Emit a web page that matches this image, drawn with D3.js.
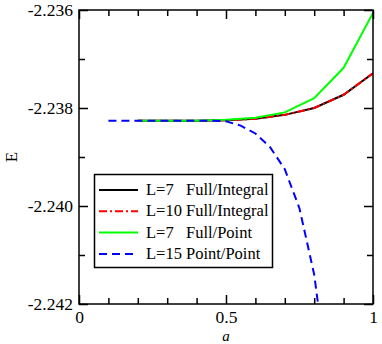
<!DOCTYPE html>
<html>
<head>
<meta charset="utf-8">
<script src="https://cdn.jsdelivr.net/npm/d3@7"></script>
<style>
  body { margin: 0; background: #fff; }
  text { font-family: 'Liberation Serif', 'Times New Roman', serif; }
</style>
</head>
<body>
<div></div>
<script>
const w = 382;
const h = 344;

// data
const aFull = [0.2, 0.3, 0.4, 0.5, 0.6, 0.7, 0.8, 0.9, 1.0];
const eL7Integral = [-2.23826, -2.23826, -2.23826, -2.23825, -2.23822, -2.23814, -2.238, -2.23773, -2.23729];
const eL10Integral = [-2.23826, -2.23826, -2.23826, -2.23825, -2.23822, -2.23814, -2.238, -2.23773, -2.23729];
const eL7Point = [-2.23826, -2.23826, -2.23826, -2.23824, -2.2382, -2.23809, -2.2378, -2.23718, -2.23606];
const aPoint = [0.1, 0.15, 0.2, 0.25, 0.3, 0.35, 0.4, 0.45, 0.5, 0.55, 0.6, 0.65, 0.7, 0.75, 0.8, 0.85];
const eL15Point = [-2.23826, -2.23826, -2.23826, -2.23826, -2.23826, -2.23826, -2.23826, -2.23826, -2.23827,
  -2.23836, -2.23852, -2.2388, -2.23925, -2.24005, -2.2414, -2.2437];

const yTicks = [-2.242, -2.24, -2.238, -2.236];
const yMinor = [-2.241, -2.239, -2.237];
const xTicks = [0, 0.5, 1];
const xMinor = [0.1, 0.2, 0.3, 0.4, 0.6, 0.7, 0.8, 0.9];

const series = [
  { label: 'L=7', method: 'Full/Integral', a: aFull, e: eL7Integral, color: '#000000', dash: null },
  { label: 'L=10', method: 'Full/Integral', a: aFull, e: eL10Integral, color: '#ff0000', dash: '8,3,2,3' },
  { label: 'L=7', method: 'Full/Point', a: aFull, e: eL7Point, color: '#00ff00', dash: null },
  { label: 'L=15', method: 'Point/Point', a: aPoint, e: eL15Point, color: '#0000ff', dash: '8,5' }
];

const pLeft = 79, pRight = 373, pTop = 10, pBottom = 304;

const x = d3.scaleLinear().domain([0, 1]).range([pLeft, pRight]);
const y = d3.scaleLinear().domain([-2.242, -2.236]).range([pBottom, pTop]);

const svg = d3
  .select('body')
  .select('div')
  .append('svg')
  .attr('width', w)
  .attr('height', h);

svg
  .append('clipPath')
  .attr('id', 'clip')
  .append('rect')
  .attr('x', pLeft)
  .attr('y', pTop)
  .attr('width', pRight - pLeft)
  .attr('height', pBottom - pTop);

const line = d3
  .line()
  .x((d) => x(d[0]))
  .y((d) => y(d[1]));

const plot = svg.append('g').attr('clip-path', 'url(#clip)');

series.forEach((s) => {
  plot
    .append('path')
    .datum(s.a.map((v, i) => [v, s.e[i]]))
    .attr('d', line)
    .attr('fill', 'none')
    .attr('stroke', s.color)
    .attr('stroke-width', 2)
    .attr('stroke-dasharray', s.dash);
});

// axes, ticks pointing inward on all four sides
const fmtY = (d) => d3.format('.3f')(d).replace('−', '-');
const fmtX = (d) => (d === 0.5 ? '0.5' : d3.format('d')(d));

svg
  .append('g')
  .attr('transform', `translate(${pLeft},0)`)
  .call(d3.axisLeft(y).tickValues(yTicks).tickSize(-9).tickPadding(6).tickFormat(fmtY))
  .call((g) => g.select('.domain').remove())
  .selectAll('text')
  .attr('font-size', 17.5)
  .attr('fill', '#000');

svg
  .append('g')
  .attr('transform', `translate(${pLeft},0)`)
  .call(d3.axisLeft(y).tickValues(yMinor).tickSize(-6).tickFormat(''))
  .call((g) => g.select('.domain').remove());

svg
  .append('g')
  .attr('transform', `translate(${pRight},0)`)
  .call(d3.axisRight(y).tickValues(yTicks).tickSize(-9).tickFormat(''))
  .call((g) => g.select('.domain').remove());

svg
  .append('g')
  .attr('transform', `translate(${pRight},0)`)
  .call(d3.axisRight(y).tickValues(yMinor).tickSize(-6).tickFormat(''))
  .call((g) => g.select('.domain').remove());

svg
  .append('g')
  .attr('transform', `translate(0,${pBottom})`)
  .call(d3.axisBottom(x).tickValues(xTicks).tickSize(-9).tickPadding(7).tickFormat(fmtX))
  .call((g) => g.select('.domain').remove())
  .selectAll('text')
  .attr('font-size', 17.5)
  .attr('fill', '#000');

svg
  .append('g')
  .attr('transform', `translate(0,${pBottom})`)
  .call(d3.axisBottom(x).tickValues(xMinor).tickSize(-6).tickFormat(''))
  .call((g) => g.select('.domain').remove());

svg
  .append('g')
  .attr('transform', `translate(0,${pTop})`)
  .call(d3.axisTop(x).tickValues(xTicks).tickSize(-9).tickFormat(''))
  .call((g) => g.select('.domain').remove());

svg
  .append('g')
  .attr('transform', `translate(0,${pTop})`)
  .call(d3.axisTop(x).tickValues(xMinor).tickSize(-6).tickFormat(''))
  .call((g) => g.select('.domain').remove());

svg.selectAll('.tick line').attr('stroke', '#000').attr('stroke-width', 1.5);

svg
  .append('rect')
  .attr('x', pLeft)
  .attr('y', pTop)
  .attr('width', pRight - pLeft)
  .attr('height', pBottom - pTop)
  .attr('fill', 'none')
  .attr('stroke', '#000')
  .attr('stroke-width', 1.5);

// axis titles
svg
  .append('text')
  .attr('x', (pLeft + pRight) / 2)
  .attr('y', 341)
  .attr('text-anchor', 'middle')
  .attr('font-size', 15)
  .attr('font-style', 'italic')
  .text('a');

svg
  .append('text')
  .attr('transform', `translate(17,${(pTop + pBottom) / 2}) rotate(-90)`)
  .attr('text-anchor', 'middle')
  .attr('font-size', 17)
  .text('E');

// legend
const legend = svg.append('g').attr('id', 'legend');

legend
  .append('rect')
  .attr('x', 94.5)
  .attr('y', 174.5)
  .attr('width', 178)
  .attr('height', 93)
  .attr('fill', '#fff')
  .attr('stroke', '#000')
  .attr('stroke-width', 1.5);

const rows = legend
  .selectAll('.legend-row')
  .data(series)
  .enter()
  .append('g')
  .attr('class', 'legend-row')
  .attr('transform', (d, i) => `translate(0,${190 + i * 21.3})`);

rows
  .append('line')
  .attr('x1', 99)
  .attr('x2', 138)
  .attr('stroke', (d) => d.color)
  .attr('stroke-width', 2)
  .attr('stroke-dasharray', (d) => d.dash);

rows
  .append('text')
  .attr('x', 146)
  .attr('y', 5)
  .attr('font-size', 16.5)
  .text((d) => d.label);

rows
  .append('text')
  .attr('x', 186)
  .attr('y', 5)
  .attr('font-size', 16.5)
  .text((d) => d.method);
</script>
</body>
</html>
